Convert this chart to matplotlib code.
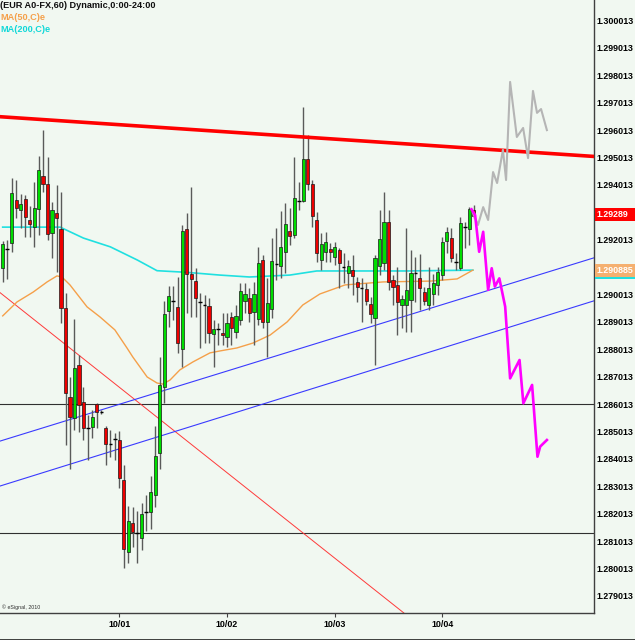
import matplotlib
matplotlib.use("Agg")
import matplotlib.pyplot as plt
from matplotlib.lines import Line2D
from matplotlib.patches import Rectangle
import matplotlib.transforms as mtransforms
import numpy as np

BG = "#f1f8f1"

# hourly EUR candles
opens = [1.29098, 1.29167, 1.29189, 1.29346, 1.29310, 1.29350, 1.29273, 1.29247, 1.29313, 1.29434,
         1.29404, 1.29226, 1.29299, 1.29240, 1.28952, 1.28627, 1.28550, 1.28744, 1.28609, 1.28514,
         1.28517, 1.28601, 1.28574, 1.28514, 1.28457, 1.28474, 1.28470, 1.28324, 1.28061, 1.28167,
         1.28132, 1.28112, 1.28207, 1.28207, 1.28269, 1.28423, 1.28664, 1.28941, 1.28979, 1.28955,
         1.28802, 1.29240, 1.29076, 1.29050, 1.28972, 1.28963, 1.28959, 1.28857, 1.28875, 1.28861,
         1.28846, 1.28919, 1.28864, 1.28908, 1.28977, 1.28989, 1.28937, 1.28912, 1.29127, 1.28901,
         1.28948, 1.29112, 1.29105, 1.29156, 1.29233, 1.29218, 1.29341, 1.29342, 1.29496, 1.29404,
         1.29273, 1.29127, 1.29156, 1.29167, 1.29138, 1.29163, 1.29100, 1.29080, 1.29091, 1.29047,
         1.29025, 1.29021, 1.28966, 1.28915, 1.29105, 1.29116, 1.29266, 1.29054, 1.29036, 1.28963,
         1.28963, 1.28981, 1.29078, 1.29061, 1.29010, 1.28963, 1.29003, 1.29036, 1.29072, 1.29196,
         1.29207, 1.29121, 1.29098, 1.29246, 1.29240, 1.29310]
highs = [1.29196, 1.29200, 1.29426, 1.29419, 1.29368, 1.29364, 1.29324, 1.29412, 1.29507, 1.29601,
         1.29503, 1.29339, 1.29401, 1.29375, 1.29007, 1.28700, 1.28912, 1.28781, 1.28664, 1.28561,
         1.28580, 1.28605, 1.28580, 1.28521, 1.28506, 1.28495, 1.28503, 1.28379, 1.28229, 1.28226,
         1.28211, 1.28240, 1.28269, 1.28339, 1.28521, 1.28773, 1.28977, 1.29032, 1.29032, 1.29065,
         1.29255, 1.29299, 1.29393, 1.29098, 1.29007, 1.28999, 1.28989, 1.28908, 1.28897, 1.28934,
         1.28934, 1.28937, 1.28963, 1.29043, 1.29043, 1.29025, 1.29047, 1.29174, 1.29145, 1.29061,
         1.29207, 1.29244, 1.29306, 1.29335, 1.29317, 1.29503, 1.29412, 1.29685, 1.29583, 1.29419,
         1.29302, 1.29226, 1.29229, 1.29189, 1.29193, 1.29171, 1.29153, 1.29127, 1.29145, 1.29065,
         1.29061, 1.29043, 1.28992, 1.29145, 1.29310, 1.29375, 1.29310, 1.29072, 1.29101, 1.28999,
         1.29244, 1.29163, 1.29138, 1.29149, 1.29028, 1.29101, 1.29076, 1.29101, 1.29211, 1.29247,
         1.29244, 1.29153, 1.29284, 1.29266, 1.29320, 1.29328]
lows = [1.29047, 1.29058, 1.29156, 1.29280, 1.29244, 1.29211, 1.29211, 1.29174, 1.29218, 1.29375,
        1.29200, 1.29134, 1.29083, 1.28897, 1.28452, 1.28364, 1.28506, 1.28499, 1.28470, 1.28397,
        1.28477, 1.28514, 1.28565, 1.28379, 1.28408, 1.28397, 1.28295, 1.28003, 1.28021, 1.28079,
        1.28021, 1.28069, 1.28138, 1.28145, 1.28226, 1.28364, 1.28605, 1.28882, 1.28908, 1.28788,
        1.28736, 1.28934, 1.28919, 1.28919, 1.28806, 1.28824, 1.28824, 1.28736, 1.28817, 1.28817,
        1.28810, 1.28817, 1.28842, 1.28890, 1.28934, 1.28901, 1.28817, 1.28890, 1.28879, 1.28773,
        1.28915, 1.29054, 1.29061, 1.29080, 1.29182, 1.29207, 1.29310, 1.29339, 1.29382, 1.29247,
        1.29120, 1.29091, 1.29120, 1.29120, 1.29109, 1.29025, 1.29043, 1.29025, 1.28999, 1.28974,
        1.28901, 1.28963, 1.28897, 1.28744, 1.29072, 1.29091, 1.29018, 1.28963, 1.28853, 1.28879,
        1.28864, 1.28864, 1.28974, 1.28945, 1.28963, 1.28945, 1.28963, 1.28999, 1.29054, 1.29153,
        1.29120, 1.29091, 1.29091, 1.29171, 1.29182, 1.29280]
closes = [1.29185, 1.29167, 1.29372, 1.29317, 1.29331, 1.29284, 1.29258, 1.29317, 1.29456, 1.29404,
          1.29222, 1.29310, 1.29280, 1.28952, 1.28642, 1.28554, 1.28733, 1.28598, 1.28514, 1.28514,
          1.28554, 1.28572, 1.28574, 1.28455, 1.28457, 1.28474, 1.28331, 1.28072, 1.28174, 1.28134,
          1.28132, 1.28200, 1.28207, 1.28280, 1.28412, 1.28671, 1.28930, 1.28996, 1.28979, 1.28824,
          1.29233, 1.29076, 1.29058, 1.28989, 1.28972, 1.28963, 1.28861, 1.28875, 1.28875, 1.28853,
          1.28897, 1.28879, 1.28923, 1.29014, 1.29003, 1.28934, 1.29003, 1.29116, 1.28901, 1.28970,
          1.29123, 1.29112, 1.29174, 1.29258, 1.29215, 1.29353, 1.29341, 1.29496, 1.29404, 1.29288,
          1.29153, 1.29185, 1.29193, 1.29156, 1.29174, 1.29116, 1.29100, 1.29105, 1.29069, 1.29028,
          1.29025, 1.28977, 1.28930, 1.29134, 1.29204, 1.29266, 1.29047, 1.29028, 1.28974, 1.28985,
          1.29018, 1.29080, 1.29078, 1.29025, 1.28977, 1.29025, 1.29043, 1.29083, 1.29193, 1.29229,
          1.29134, 1.29121, 1.29262, 1.29246, 1.29313, 1.29289]

# moving averages (bar index, price)
ma50_x = [0, 3.2, 6.8, 9.9, 12.1, 13.2, 15, 18.8, 21.7, 25, 27.7, 29, 32.2, 34.4, 35.7, 37.3, 39.5,
          42.4, 46.2, 48.4, 52.2, 55.8, 59.6, 63.4, 66.9, 70.7, 76.3, 84.8, 95.3, 101.3, 104.8]
ma50_y = [1.28923, 1.28974, 1.29010, 1.29047, 1.29069, 1.29065, 1.29036, 1.28956, 1.28919, 1.28872,
          1.28806, 1.28773, 1.28700, 1.28678, 1.28674, 1.28689, 1.28726, 1.28755, 1.28788, 1.28795,
          1.28806, 1.28824, 1.28853, 1.28901, 1.28963, 1.29003, 1.29036, 1.29047, 1.29050, 1.29058,
          1.29090]
ma200_x = [0, 12.8, 18, 24, 30, 34.4, 41, 48.4, 55, 64, 70, 77.4, 90, 104.8]
ma200_y = [1.29247, 1.29247, 1.29207, 1.29175, 1.29127, 1.29088, 1.29082, 1.29072, 1.29065, 1.29072,
           1.29087, 1.29087, 1.29087, 1.29090]

# drawn trend lines (bar index, price)
red_trend_x, red_trend_y = [-0.6, 131.8], [1.29650, 1.29505]
chan_hi_x, chan_hi_y = [-0.6, 131.8], [1.28466, 1.29135]
chan_lo_x, chan_lo_y = [-0.6, 131.8], [1.28302, 1.28978]
thin_red_x, thin_red_y = [-0.6, 89.4], [1.29008, 1.27839]
h_levels = [1.28603, 1.28131]

# forecast paths
gray_x = [104.8, 105.95, 107.1, 108.2, 109.3, 110.2, 111.5, 112.2, 113.1, 114.6, 116.0, 117.1,
          118.2, 119.1, 120.0, 121.3]
gray_y = [1.29299, 1.29255, 1.29320, 1.29273, 1.29448, 1.29408, 1.29529, 1.29419, 1.29777, 1.29576,
          1.29609, 1.29499, 1.29744, 1.29664, 1.29678, 1.29601]
pink_x = [104.5, 105.3, 106.2, 107.1, 108.2, 109.0, 109.7, 110.7, 112.0, 113.1, 115.2, 116.05,
          118.0, 119.2, 119.8, 121.3]
pink_y = [1.29312, 1.29291, 1.29157, 1.29230, 1.29018, 1.29097, 1.29030, 1.29060, 1.28957, 1.28695,
          1.28762, 1.28604, 1.28671, 1.28409, 1.28446, 1.28470]

date_pos = [26, 50, 74, 98]
date_labels = ["10/01", "10/02", "10/03", "10/04"]
# 1.293013 and 1.291013 sit under the price flags
price_ticks = [1.279013 + 0.001 * k for k in range(22) if k not in (12, 14)]
last_price, ma_price = 1.29289, 1.290885

fig = plt.figure(figsize=(6.35, 6.40), dpi=100, facecolor=BG)
ax = fig.add_axes([0, 27 / 640, 594 / 635, 613 / 640])
ax.set_facecolor(BG)
ax.set_xlim(-0.6, 131.8)
ax.set_ylim(1.278386, 1.30076)

# reference lines
for lv in h_levels:
    ax.axhline(lv, color="#303030", lw=0.8, zorder=1)
ax.plot(thin_red_x, thin_red_y, color="#ff3a3a", lw=0.7, zorder=1)
ax.plot(chan_hi_x, chan_hi_y, color="#3a3aff", lw=0.8, zorder=1)
ax.plot(chan_lo_x, chan_lo_y, color="#3a3aff", lw=0.8, zorder=1)
ax.plot(ma200_x, ma200_y, color="#20e0e0", lw=1.2, zorder=2)
ax.plot(ma50_x, ma50_y, color="#f5a04a", lw=1.0, zorder=2)

# candles
o = np.array(opens); h = np.array(highs); l = np.array(lows); c = np.array(closes)
x = np.arange(len(o))
ax.vlines(x, l, h, color="#5a5a5a", lw=1.0, zorder=3)
up = c > o
dn = c < o
flat = c == o
ax.bar(x[up], (c - o)[up], bottom=o[up], width=0.7, color="#00dd00",
       edgecolor="#1a1a1a", linewidth=0.5, zorder=4)
ax.bar(x[dn], (o - c)[dn], bottom=c[dn], width=0.7, color="#ee0000",
       edgecolor="#1a1a1a", linewidth=0.5, zorder=4)
ax.hlines(o[flat], x[flat] - 0.4, x[flat] + 0.4, color="black", lw=1.0, zorder=4)

ax.plot(red_trend_x, red_trend_y, color="#ff0000", lw=2.6, zorder=5)
ax.plot(gray_x, gray_y, color="#b5b5b5", lw=1.5, zorder=5)
ax.plot(pink_x, pink_y, color="#ff00ff", lw=1.9, zorder=5)

# axes styling
for s in ["top", "left"]:
    ax.spines[s].set_visible(False)
for s in ["right", "bottom"]:
    ax.spines[s].set_color("#404040")
    ax.spines[s].set_linewidth(1.0)
ax.yaxis.tick_right()
ax.set_yticks(price_ticks)
ax.set_yticklabels([f"{v:.6f}" for v in price_ticks])
ax.tick_params(axis="y", length=0, pad=2, labelsize=6.4, labelcolor="black")
ax.set_xticks(date_pos)
ax.set_xticklabels(date_labels)
ax.tick_params(axis="x", length=3, width=0.8, color="#404040", pad=2, labelsize=6.4)
for t in ax.get_xticklabels() + ax.get_yticklabels():
    t.set_fontfamily("Liberation Sans")
    t.set_fontweight("bold")

# price flags on right axis: x in figure units, y in price units
flag_tr = mtransforms.blended_transform_factory(fig.transFigure, ax.transData)
box_h = 0.000475
x0 = 594.5 / 635


def flag(val, face, txt, dy=0.0):
    fig.patches.append(Rectangle((x0, val - box_h / 2 + dy), 1 - x0, box_h, transform=flag_tr,
                                 fc=face, ec="none", zorder=10))
    fig.text(596 / 635, val + dy, txt, transform=flag_tr, ha="left", va="center",
             fontsize=6.4, fontweight="bold", family="Liberation Sans", color="white", zorder=11)


flag(ma_price, "#20e0e0", "", dy=-0.00006)
flag(ma_price, "#f5b070", f"{ma_price:.6f}")
flag(last_price, "#ff0000", f"{last_price:.5f}", dy=0.00003)

# header texts
fig.text(0.0, 1 - 6 / 640, "(EUR A0-FX,60) Dynamic,0:00-24:00", ha="left", va="center",
         fontsize=6.6, fontweight="bold", family="Liberation Sans", color="#101010")
fig.text(0.0, 1 - 17.5 / 640, "MA(50,C)e", ha="left", va="center",
         fontsize=6.6, fontweight="bold", family="Liberation Sans", color="#f5a04a")
fig.text(0.0, 1 - 29.5 / 640, "MA(200,C)e", ha="left", va="center",
         fontsize=6.6, fontweight="bold", family="Liberation Sans", color="#10d8d8")
fig.text(2 / 635, 1 - 607 / 640, "© eSignal, 2010", ha="left", va="center",
         fontsize=3.8, family="Liberation Sans", color="#303030")

fig.add_artist(Line2D([0, 1], [0.5 / 640, 0.5 / 640], color="#202020", lw=1.2))

fig.savefig("out.png", dpi=100, facecolor=BG)
